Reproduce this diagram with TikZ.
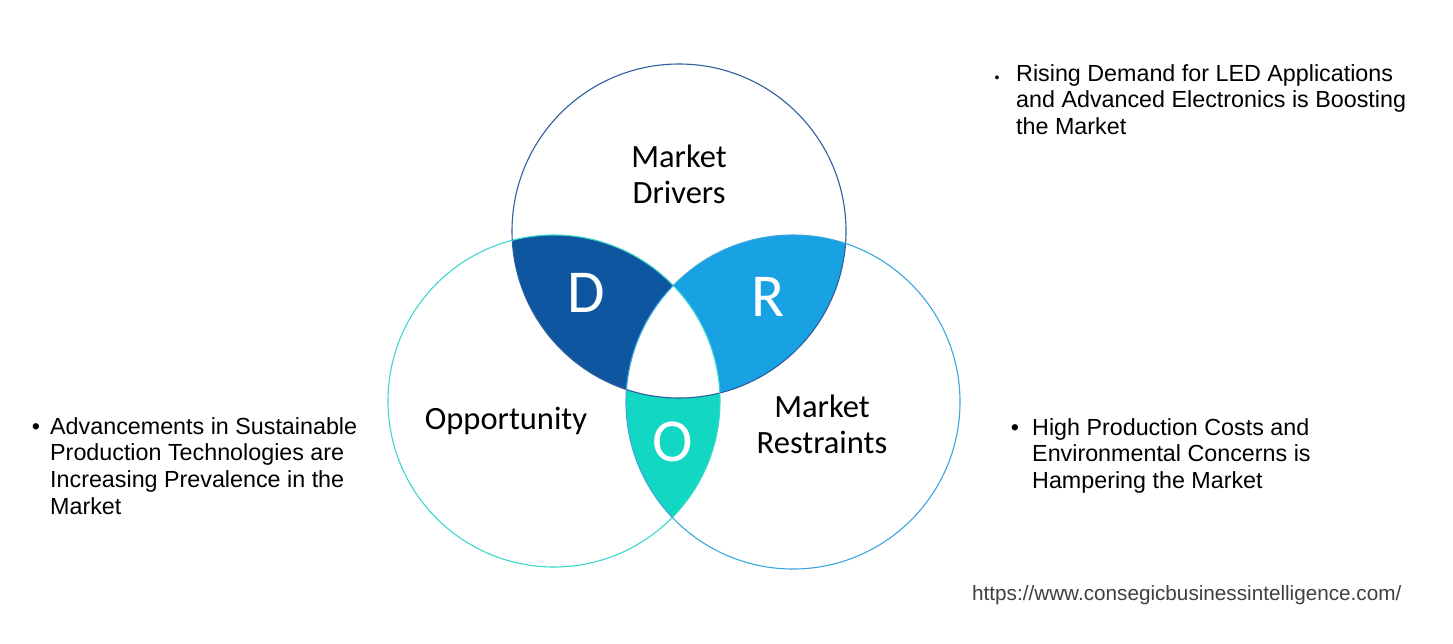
\documentclass[tikz,border=0pt]{standalone}
\usepackage{fontspec}
\setmainfont{Liberation Sans}
\newfontfamily\lbl{Carlito}
\definecolor{cTopLine}{HTML}{2F5E9E}
\definecolor{cLeftLine}{HTML}{3DD8CB}
\definecolor{cRightLine}{HTML}{3AA6DE}
\definecolor{cD}{HTML}{0E56A0}
\definecolor{cR}{HTML}{18A1E3}
\definecolor{cO}{HTML}{12D7C2}
\definecolor{cUrl}{HTML}{404040}
\begin{document}
\begin{tikzpicture}[x=1pt,y=-1pt,
  circlabel/.style={font=\lbl\fontsize{32.5}{36}\selectfont, align=center, inner sep=0pt, text=black},
  letter/.style={font=\lbl\fontsize{61}{61}\selectfont, text=white, inner sep=0pt},
  bullettext/.style={font=\fontsize{23.3}{26.7}\selectfont, align=left, anchor=base west, inner sep=0pt, text=black},
  bulletdot/.style={font=\fontsize{23.3}{26.7}\selectfont, anchor=base, inner sep=0pt, text=black},
  ring/.style={line width=1.1pt}]
\useasboundingbox (0,0) rectangle (1453,643);
\fill[white] (0,0) rectangle (1453,643);
\def\Top{(679,231) circle (167pt)}
\def\Lft{(554,401) circle (166pt)}
\def\Rgt{(793,402) circle (167pt)}
% lens fills
\begin{scope}\clip \Top; \fill[cD] \Lft; \end{scope}
\begin{scope}\clip \Top; \fill[cR] \Rgt; \end{scope}
\begin{scope}\clip \Lft; \fill[cO] \Rgt; \end{scope}
\begin{scope}\clip \Top; \clip \Lft; \fill[white] \Rgt; \end{scope}
% outlines
\draw[ring, cTopLine] \Top;
\draw[ring, cLeftLine] \Lft;
\draw[ring, cRightLine] \Rgt;
% labels
\node[circlabel] (md) at (679,174) {Market\\Drivers};
\node[circlabel] (op) at (506,421) {Opportunity};
\node[circlabel] (mr) at (822,424) {Market\\Restraints};
\node[letter] (d) at (586,293) {D};
\node[letter] (r) at (768,297) {R};
\node[letter] (o) at (673,442) {O};
% bullet texts (base anchor = last line's baseline)
\node[bulletdot, font=\fontsize{14}{14}\selectfont] (b1) at (997,82) {•};
\node[bullettext] (t1) at (1016,134.4) {Rising Demand for LED Applications\\and Advanced Electronics is Boosting\\the Market};
\node[bulletdot] (b2) at (36,434) {•};
\node[bullettext] (t2) at (50,514.1) {Advancements in Sustainable\\Production Technologies are\\Increasing Prevalence in the\\Market};
\node[bulletdot] (b3) at (1015,435) {•};
\node[bullettext] (t3) at (1032,488.4) {High Production Costs and\\Environmental Concerns is\\Hampering the Market};
\node[font=\fontsize{20.7}{20.7}\selectfont, text=cUrl, anchor=base west, inner sep=0pt] (url) at (972,600) {https://www.consegicbusinessintelligence.com/};
\end{tikzpicture}
\end{document}
